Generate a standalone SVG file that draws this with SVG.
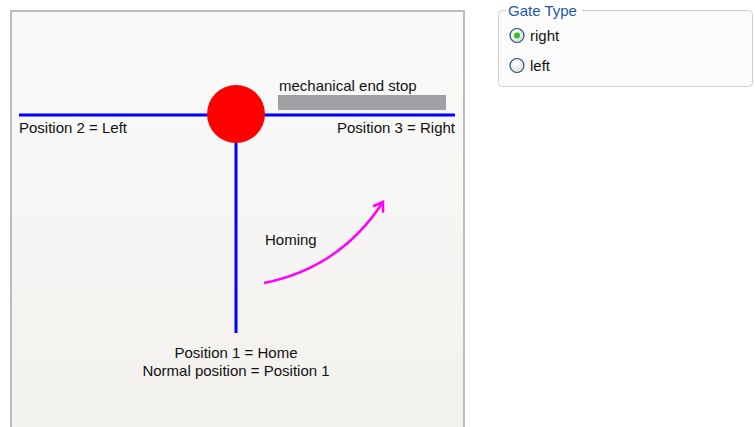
<svg xmlns="http://www.w3.org/2000/svg" width="755" height="427" viewBox="0 0 755 427">
<defs>
<linearGradient id="pg" x1="0" y1="0" x2="0" y2="1">
<stop offset="0" stop-color="#fafafa"/>
<stop offset="1" stop-color="#f2f1ed"/>
</linearGradient>
<radialGradient id="rb" cx="0.4" cy="0.35" r="0.7">
<stop offset="0" stop-color="#ffffff"/>
<stop offset="1" stop-color="#dcdcd4"/>
</radialGradient>
<marker id="ah" markerWidth="14" markerHeight="14" refX="10" refY="7" orient="auto" markerUnits="userSpaceOnUse">
<path d="M1,1 L10,7 L1,13" fill="none" stroke="#ff00ff" stroke-width="2.5"/>
</marker>
</defs>
<style>
text{font-family:"Liberation Sans",Arial,sans-serif;font-size:15px;fill:#111}
.blue{stroke:#0000ff;stroke-width:3;fill:none}
.rad{fill:url(#rb);stroke:#1c5180;stroke-width:1.2}
</style>
<rect width="755" height="427" fill="#ffffff"/>
<g id="panel">
<rect x="10" y="10" width="455" height="420" fill="url(#pg)"/>
<path d="M11,427 V11 H464 V427" fill="none" stroke="#bdbdb8" stroke-width="2"/>
</g>
<g id="connectors">
<line class="blue" x1="19" y1="115" x2="455" y2="115"/>
<line class="blue" x1="236" y1="115" x2="236" y2="333"/>
<path d="M264,283 Q340,268 383,202" fill="none" stroke="#ff00ff" stroke-width="2.5" marker-end="url(#ah)"/>
</g>
<g id="gate">
<circle cx="236" cy="114" r="29" fill="#ff0000"/>
</g>
<g id="endstop">
<rect x="278" y="95" width="168" height="15" fill="#a0a0a4"/>
<text x="279" y="91">mechanical end stop</text>
</g>
<g id="labels">
<text x="19" y="133">Position 2 = Left</text>
<text x="455" y="133" text-anchor="end">Position 3 = Right</text>
<text x="265" y="245">Homing</text>
<text x="236" y="358" text-anchor="middle">Position 1 = Home</text>
<text x="236" y="376" text-anchor="middle">Normal position = Position 1</text>
</g>
<g id="gatetype">
<rect x="498.5" y="10.5" width="254" height="76" rx="4" fill="#fbfbfb" stroke="#d0d0c8"/>
<rect x="506" y="2" width="76" height="14" fill="#ffffff"/>
<text x="508" y="16" style="fill:#2357b0">Gate Type</text>
<circle class="rad" cx="517" cy="35.5" r="7"/>
<circle cx="517" cy="35.5" r="3" fill="#2fbf2f"/>
<text x="530" y="41">right</text>
<circle class="rad" cx="517" cy="65.5" r="7"/>
<text x="530" y="71">left</text>
</g>
</svg>
